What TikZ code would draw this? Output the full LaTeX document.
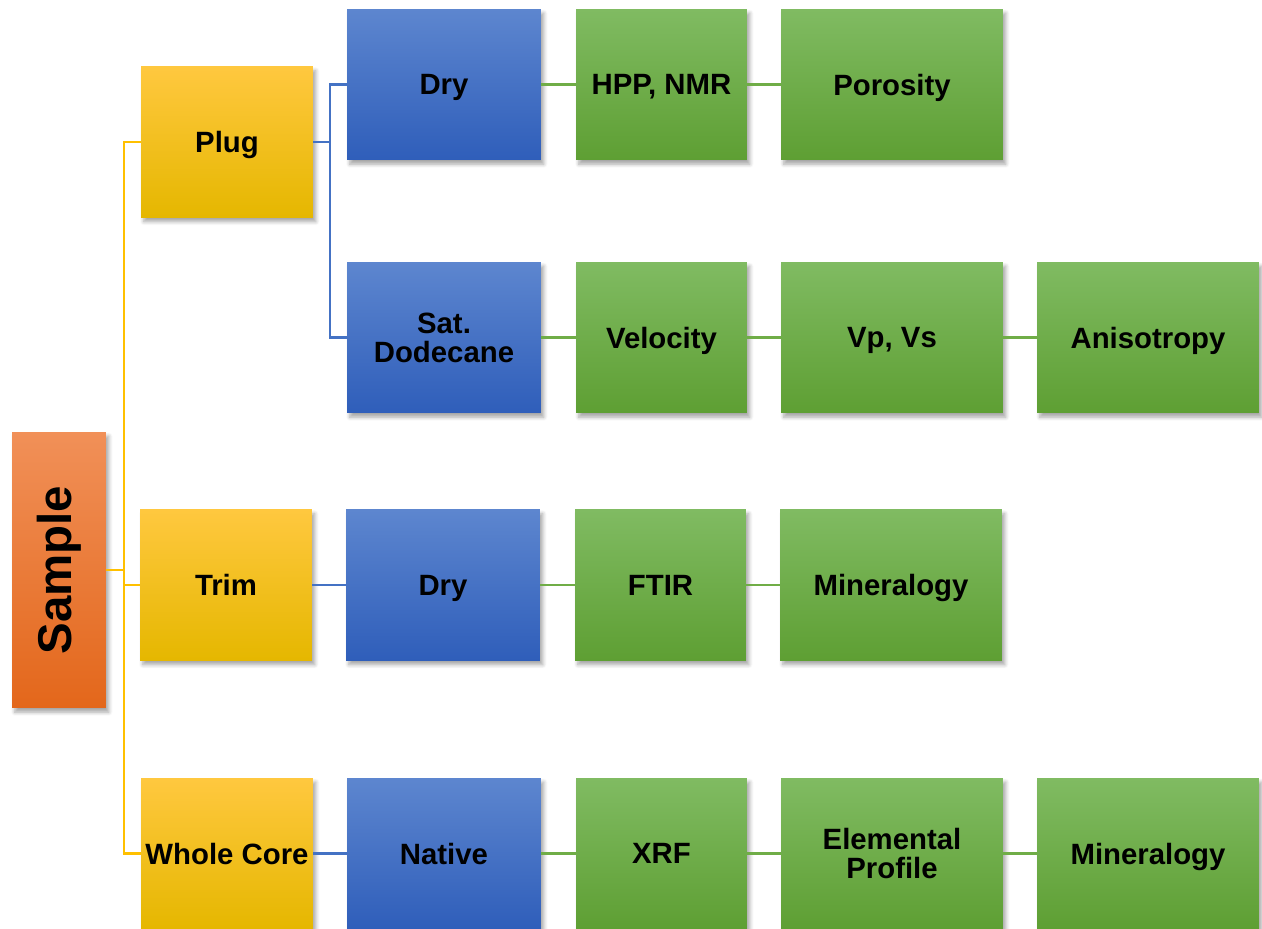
\documentclass[tikz,border=0pt]{standalone}
\usepackage{fontspec}
\usepackage{graphicx}
\setmainfont{Liberation Sans}
\usetikzlibrary{shadows.blur}

\definecolor{orangeTop}{HTML}{F19058}
\definecolor{orangeBot}{HTML}{E3671B}
\definecolor{yellowTop}{HTML}{FFC83F}
\definecolor{yellowMid}{HTML}{FFC000}
\definecolor{yellowBot}{HTML}{E5B700}
\definecolor{blueTop}{HTML}{5D86CF}
\definecolor{blueMid}{HTML}{3D6BC6}
\definecolor{blueBot}{HTML}{2F5EBA}
\definecolor{greenTop}{HTML}{80BB62}
\definecolor{greenMid}{HTML}{6DAE45}
\definecolor{greenBot}{HTML}{5E9F33}
\definecolor{yellowLine}{HTML}{FFC000}
\definecolor{blueLine}{HTML}{4472C4}
\definecolor{greenLine}{HTML}{70AD47}

\begin{document}
\begin{tikzpicture}[x=0.02cm,y=-0.02cm,
  box/.style={rectangle,inner sep=2pt,align=center,text=black,text depth=0pt,
    font=\fontsize{16.7}{16.5}\selectfont\bfseries,minimum height=3.02cm,
    blur shadow={shadow xshift=1.6pt,shadow yshift=-2.4pt,shadow blur steps=6,shadow opacity=35}},
  twoline/.style={text depth=},
  samplebox/.style={box,minimum width=1.88cm,minimum height=5.52cm,
    top color=orangeTop,bottom color=orangeBot},
  formbox/.style={box,minimum width=3.44cm,
    top color=yellowTop,middle color=yellowMid,bottom color=yellowBot},
  statebox/.style={box,minimum width=3.88cm,
    top color=blueTop,middle color=blueMid,bottom color=blueBot},
  testbox/.style={box,minimum width=3.42cm,
    top color=greenTop,middle color=greenMid,bottom color=greenBot},
  wide/.style={minimum width=4.44cm},
  ylink/.style={draw=yellowLine,line width=1.2pt},
  blink/.style={draw=blueLine,line width=1.2pt},
  glink/.style={draw=greenLine,line width=1.2pt}]
  \useasboundingbox (0,0) rectangle (1262,929);

  \node[samplebox] (sample) at (59,570) {\fontsize{27}{27}\selectfont\rotatebox{90}{Sample}};

  \node[formbox] (plug) at (227,142) {Plug};
  \node[formbox] (trim) at (226,585) {Trim};
  \node[formbox] (core) at (227,853.5) {Whole Core};

  \node[statebox] (dryA) at (444,84.5) {Dry};
  \node[statebox,twoline] (sat) at (444,337.5) {Sat.\\Dodecane};
  \node[statebox] (dryB) at (443,585) {Dry};
  \node[statebox] (native) at (444,853.5) {Native};

  \node[testbox] (hpp) at (661.5,84.5) {HPP, NMR};
  \node[testbox] (vel) at (661.5,337.5) {Velocity};
  \node[testbox] (ftir) at (660.5,585) {FTIR};
  \node[testbox] (xrf) at (661.5,853.5) {XRF};

  \node[testbox,wide] (poro) at (892,84.5) {Porosity};
  \node[testbox,wide] (vpvs) at (892,337.5) {Vp, Vs};
  \node[testbox,wide] (minA) at (891,585) {Mineralogy};
  \node[testbox,wide,twoline] (elem) at (892,853.5) {Elemental\\Profile};

  \node[testbox,wide] (aniso) at (1148,337.5) {Anisotropy};
  \node[testbox,wide] (minB) at (1148,853.5) {Mineralogy};

  \coordinate (trunk) at (124,570);
  \coordinate (fork) at (330,142);

  \draw[ylink] (sample.east) -- (trunk) |- (trim.west);
  \draw[ylink] (trunk) |- (plug.west);
  \draw[ylink] (trunk) |- (core.west);

  \draw[blink] (plug.east) -- (fork) |- (dryA.west);
  \draw[blink] (fork) |- (sat.west);
  \draw[blink] (trim) -- (dryB);
  \draw[blink] (core) -- (native);

  \draw[glink] (dryA) -- (hpp) -- (poro);
  \draw[glink] (sat) -- (vel) -- (vpvs) -- (aniso);
  \draw[glink] (dryB) -- (ftir) -- (minA);
  \draw[glink] (native) -- (xrf) -- (elem) -- (minB);
\end{tikzpicture}
\end{document}
